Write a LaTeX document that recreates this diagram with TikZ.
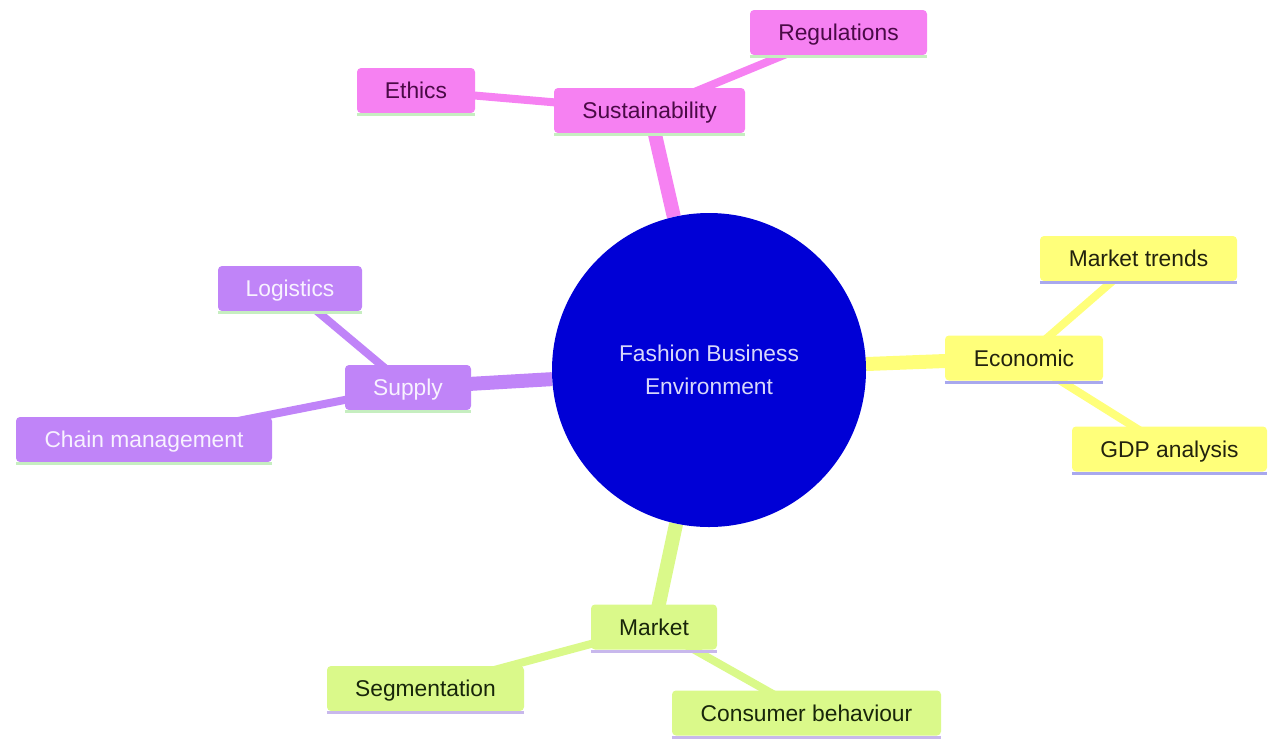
\documentclass[tikz,border=0pt]{standalone}
\usepackage{fontspec}
\setmainfont{Liberation Sans}
\usetikzlibrary{backgrounds}
\definecolor{pinkc}{HTML}{F681F2}
\definecolor{purpc}{HTML}{C084F8}
\definecolor{yelc}{HTML}{FFFF7A}
\definecolor{grnc}{HTML}{DAF98A}
\definecolor{hubc}{HTML}{0000D6}
\definecolor{pinkt}{HTML}{4A0A46}
\definecolor{purpt}{HTML}{F8F2FF}
\definecolor{yelt}{HTML}{22220E}
\definecolor{grnt}{HTML}{18260A}
\definecolor{hubt}{HTML}{D8D8FA}
\definecolor{ulgreen}{HTML}{C6EEC0}
\definecolor{ulblue}{HTML}{A8A8EE}
\definecolor{ullav}{HTML}{C8B8EC}
\tikzset{
  box/.style={rectangle, rounded corners=4pt, minimum height=45pt, inner sep=0pt,
    text height=16pt, text depth=0pt,
    font=\fontsize{22.8}{26}\selectfont},
  pinkbox/.style={box, fill=pinkc, text=pinkt},
  purpbox/.style={box, fill=purpc, text=purpt},
  yelbox/.style={box, fill=yelc, text=yelt},
  grnbox/.style={box, fill=grnc, text=grnt},
  mainedge/.style={line width=14pt},
  subedge/.style={line width=8pt},
  uline/.style={line width=3pt},
}
\begin{document}
\begin{tikzpicture}[x=1pt,y=-1pt]
\path[use as bounding box] (0,0) rectangle (1269,740);
\node[circle, fill=hubc, minimum size=314pt, inner sep=0pt, text=hubt,
  font=\fontsize{22.8}{33}\selectfont, align=center] (hub) at (709,370) {Fashion Business\\Environment};

\node[pinkbox, minimum width=191pt] (sus) at (649.5,110.5) {Sustainability};
\node[pinkbox, minimum width=177pt] (reg) at (838.5,32.5) {Regulations};
\node[pinkbox, minimum width=118pt] (eth) at (416,90.5) {Ethics};

\node[purpbox, minimum width=126pt] (sup) at (408,387.5) {Supply};
\node[purpbox, minimum width=144pt] (log) at (290,288.5) {Logistics};
\node[purpbox, minimum width=256pt] (chm) at (144,439.5) {Chain management};

\node[yelbox, minimum width=158pt] (eco) at (1024,358) {Economic};
\node[yelbox, minimum width=197pt] (mtr) at (1138.5,258.5) {Market trends};
\node[yelbox, minimum width=195pt] (gdp) at (1169.5,449) {GDP analysis};

\node[grnbox, minimum width=126pt] (mkt) at (654,627) {Market};
\node[grnbox, minimum width=197pt] (seg) at (425.5,688.5) {Segmentation};
\node[grnbox, minimum width=269pt] (con) at (806.5,713) {Consumer behaviour};

\begin{scope}[on background layer]
\draw[mainedge, pinkc] (hub) -- (sus.center);
\draw[subedge, pinkc] (sus.center) -- (reg.center);
\draw[subedge, pinkc] (sus.center) -- (eth.center);
\draw[mainedge, purpc] (hub) -- (sup.center);
\draw[subedge, purpc] (sup.center) -- (log.center);
\draw[subedge, purpc] (sup.center) -- (chm.center);
\draw[mainedge, yelc] (hub) -- (eco.center);
\draw[subedge, yelc] (eco.center) -- (mtr.center);
\draw[subedge, yelc] (eco.center) -- (gdp.center);
\draw[mainedge, grnc] (hub) -- (mkt.center);
\draw[subedge, grnc] (mkt.center) -- (seg.center);
\draw[subedge, grnc] (mkt.center) -- (con.center);
\end{scope}

\foreach \n in {sus,reg,eth,sup,log,chm}
  \draw[uline, ulgreen] ([yshift=-1.5pt]\n.south west) -- ([yshift=-1.5pt]\n.south east);
\foreach \n in {eco,mtr,gdp}
  \draw[uline, ulblue] ([yshift=-1.5pt]\n.south west) -- ([yshift=-1.5pt]\n.south east);
\foreach \n in {mkt,seg,con}
  \draw[uline, ullav] ([yshift=-1.5pt]\n.south west) -- ([yshift=-1.5pt]\n.south east);
\end{tikzpicture}
\end{document}
